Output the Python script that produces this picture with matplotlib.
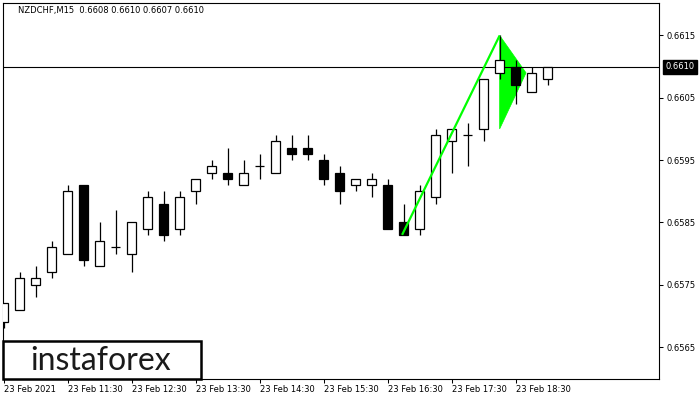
import matplotlib
matplotlib.use("Agg")
import matplotlib.pyplot as plt
from matplotlib.patches import Rectangle, Polygon
from matplotlib.transforms import blended_transform_factory

# ---------------- data ----------------
symbol = "NZDCHF,M15"
last_ohlc = [0.6608, 0.6610, 0.6607, 0.6610]

opens  = [0.6569, 0.6571, 0.6575, 0.6577, 0.6580, 0.6591, 0.6578, 0.6581, 0.6580, 0.6584,
          0.6588, 0.6584, 0.6590, 0.6593, 0.6593, 0.6591, 0.6594, 0.6593, 0.6597, 0.6597,
          0.6595, 0.6593, 0.6591, 0.6591, 0.6591, 0.6585, 0.6584, 0.6589, 0.6598, 0.6599,
          0.6600, 0.6609, 0.6610, 0.6606, 0.6608]
highs  = [0.6572, 0.6577, 0.6578, 0.6582, 0.6591, 0.6591, 0.6585, 0.6587, 0.6585, 0.6590,
          0.6590, 0.6590, 0.6592, 0.6595, 0.6597, 0.6595, 0.6596, 0.6599, 0.6599, 0.6599,
          0.6596, 0.6594, 0.6592, 0.6593, 0.6592, 0.6588, 0.6591, 0.6600, 0.6600, 0.6601,
          0.6608, 0.6615, 0.6611, 0.6610, 0.6610]
lows   = [0.6568, 0.6571, 0.6573, 0.6576, 0.6580, 0.6578, 0.6578, 0.6580, 0.6577, 0.6583,
          0.6582, 0.6583, 0.6588, 0.6592, 0.6591, 0.6591, 0.6592, 0.6593, 0.6595, 0.6595,
          0.6591, 0.6588, 0.6590, 0.6589, 0.6584, 0.6583, 0.6583, 0.6588, 0.6593, 0.6594,
          0.6598, 0.6608, 0.6604, 0.6606, 0.6607]
closes = [0.6572, 0.6576, 0.6576, 0.6581, 0.6590, 0.6579, 0.6582, 0.6581, 0.6585, 0.6589,
          0.6583, 0.6589, 0.6592, 0.6594, 0.6592, 0.6593, 0.6594, 0.6598, 0.6596, 0.6596,
          0.6592, 0.6590, 0.6592, 0.6592, 0.6584, 0.6583, 0.6590, 0.6599, 0.6600, 0.6599,
          0.6608, 0.6611, 0.6607, 0.6609, 0.6610]

x_tick_idx = [0, 4, 8, 12, 16, 20, 24, 28, 32]
x_tick_labels = ["23 Feb 2021", "23 Feb 11:30", "23 Feb 12:30", "23 Feb 13:30",
                 "23 Feb 14:30", "23 Feb 15:30", "23 Feb 16:30", "23 Feb 17:30",
                 "23 Feb 18:30"]
y_ticks = [0.6565, 0.6575, 0.6585, 0.6595, 0.6605, 0.6615]
current_price = 0.6610

pole_x = [24.9, 31.0]
pole_y = [0.6583, 0.6615]
flag_x = [31.0, 32.65, 31.0]
flag_y = [0.6615, 0.6609, 0.6600]

# ---------------- figure ----------------
W, H = 700, 400
fig = plt.figure(figsize=(W / 100, H / 100), dpi=100)
fig.patch.set_facecolor("white")
ax = fig.add_axes([2.5 / W, 21 / H, 656.8 / W, 376.5 / H])
ax.set_facecolor("white")

ax.set_xlim(-0.08, 40.98)
ax.set_ylim(0.655987, 0.662029)

# flag (behind candles)
ax.add_patch(Polygon(list(zip(flag_x, flag_y)), closed=True, facecolor="#00ff00",
                     edgecolor="#00ff00", lw=0.5, zorder=1))

# current price line
ax.axhline(current_price, color="black", lw=0.8, zorder=1.5)

body_w = 0.56
for i, (o, h, l, c) in enumerate(zip(opens, highs, lows, closes)):
    ax.vlines(i, l, h, color="black", lw=0.9, zorder=2)
    bottom = min(o, c)
    height = abs(c - o)
    fc = "black" if c < o else "white"
    ax.add_patch(Rectangle((i - body_w / 2, bottom), body_w, height,
                           facecolor=fc, edgecolor="black", lw=0.9, zorder=3))

# pole line (on top)
ax.plot(pole_x, pole_y, color="#00ff00", lw=1.6, zorder=4, solid_capstyle="butt")

# axes styling
for sp in ax.spines.values():
    sp.set_color("black")
    sp.set_linewidth(0.8)

ax.yaxis.tick_right()
ax.set_yticks(y_ticks)
ax.set_yticklabels([f"{v:.4f}" for v in y_ticks])
ax.tick_params(axis="y", direction="out", length=3, width=0.75, pad=2,
               labelsize=6, colors="black")

ax.set_xticks(x_tick_idx)
ax.set_xticklabels(x_tick_labels)
ax.tick_params(axis="x", direction="out", length=3, width=0.75, pad=1.2,
               labelsize=6, colors="black")
for lbl in ax.get_xticklabels():
    lbl.set_ha("left")

# current price label on right axis
tr = blended_transform_factory(ax.transAxes, ax.transData)
ax.text(1.0 + 6 / 656.8, current_price, f"{current_price:.4f}", transform=tr,
        ha="left", va="center", color="white", fontsize=6,
        bbox=dict(boxstyle="square,pad=0.3", fc="black", ec="black"), zorder=10,
        clip_on=False)

# title
fig.text(18 / W, 1 - 11 / H,
         f"{symbol}  " + " ".join(f"{v:.4f}" for v in last_ohlc),
         fontsize=6, ha="left", va="center", color="black")

# watermark box
fig.patches.append(Rectangle((2.5 / W, 21 / H), (201 - 2.5) / W, (379 - 340.5) / H,
                             transform=fig.transFigure, fill=False,
                             edgecolor="black", lw=1.8, zorder=20))
fig.text(100.5 / W, (H - 360.5) / H, "instaforex", fontsize=23, family="Lato",
         ha="center", va="center", color="#1a1a1a", zorder=21)

fig.savefig("out.png", dpi=100)
